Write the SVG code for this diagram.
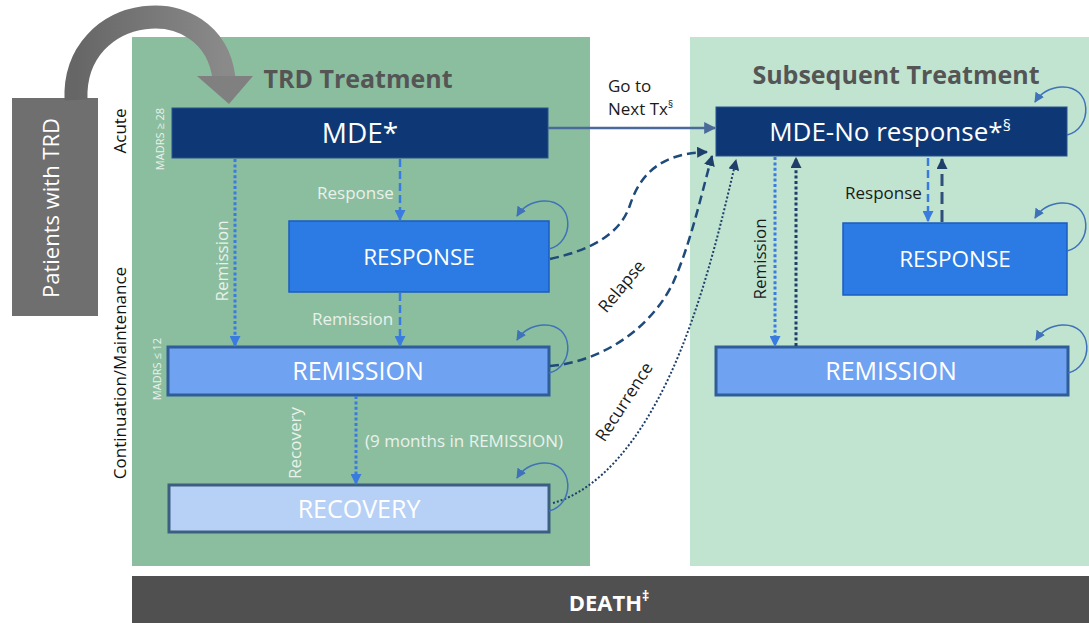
<svg xmlns="http://www.w3.org/2000/svg" width="1089" height="623" viewBox="0 0 1089 623">
<style>
text{font-family:"Open Sans","Liberation Sans",sans-serif}
.lbl{font-size:17px;fill:#e9f1ec}
.dlbl{font-size:17px;fill:#1a1a1a}
.box{font-size:25px;fill:#ffffff;text-anchor:middle}
.title{font-size:25px;font-weight:bold;fill:#555555;text-anchor:middle}
.madrs{font-size:11px;fill:#e9f1ec;text-anchor:middle}
.dot{fill:none;stroke:#3a7be0;stroke-width:3;stroke-dasharray:3 2.4}
.dash{fill:none;stroke:#3a7be0;stroke-width:2.5;stroke-dasharray:8 4}
.ndot{fill:none;stroke:#1f3f6b;stroke-width:3;stroke-dasharray:3 2.4}
.ndash{fill:none;stroke:#1f4a7a;stroke-width:2.5;stroke-dasharray:9 5}
.loop{fill:none;stroke:#3f72b8;stroke-width:1.5}
</style>
<defs>
<marker id="aBlue" viewBox="0 0 10 10" refX="9" refY="5" markerWidth="11" markerHeight="11" markerUnits="userSpaceOnUse" orient="auto"><path d="M0,0 L10,5 L0,10 z" fill="#3a7be0"/></marker>
<marker id="aNavy" viewBox="0 0 10 10" refX="9" refY="5" markerWidth="11" markerHeight="11" markerUnits="userSpaceOnUse" orient="auto"><path d="M0,0 L10,5 L0,10 z" fill="#1f3f6b"/></marker>
<marker id="aSteel" viewBox="0 0 10 10" refX="9" refY="5" markerWidth="12" markerHeight="12" markerUnits="userSpaceOnUse" orient="auto"><path d="M0,0 L10,5 L0,10 z" fill="#4a6a9a"/></marker>
<marker id="aLoop" viewBox="0 0 10 10" refX="9" refY="5" markerWidth="10" markerHeight="10" markerUnits="userSpaceOnUse" orient="auto"><path d="M0,0 L10,5 L0,10 z" fill="#3f72b8"/></marker>
<path id="loopShape" class="loop" d="M0,28 C26,22 26,-22 -6,-20 C-18,-19 -27,-13 -32,-5" marker-end="url(#aLoop)"/>
<linearGradient id="gArrow" x1="0" y1="0" x2="1" y2="0">
<stop offset="0" stop-color="#666666"/><stop offset="1" stop-color="#8a8a8a"/>
</linearGradient>
</defs>

<!-- panels -->
<rect x="132" y="37" width="458" height="529" fill="#8bbe9f"/>
<rect x="690" y="37" width="399" height="529" fill="#c0e4d0"/>
<rect x="132" y="576" width="957" height="47" fill="#505050"/>
<text x="609" y="611" font-size="22" font-weight="bold" fill="#ffffff" text-anchor="middle">DEATH<tspan font-size="14" dy="-10">‡</tspan></text>

<text class="title" x="358" y="88">TRD Treatment</text>
<text class="title" x="896" y="84">Subsequent Treatment</text>

<!-- patients and entry arrow -->
<g id="patients">
<rect x="12" y="98" width="86" height="218" fill="#6f6f6f"/>
<text transform="translate(59,208) rotate(-90)" font-size="22" fill="#ffffff" text-anchor="middle">Patients with TRD</text>
<path d="M76,100 C72,2 212,-14 224,78" fill="none" stroke="url(#gArrow)" stroke-width="23"/>
<polygon points="197,76 253,76 229,104" fill="#808080"/>
</g>

<!-- phase labels -->
<text transform="translate(126,131) rotate(-90)" font-size="17" fill="#111" text-anchor="middle">Acute</text>
<text transform="translate(126,373) rotate(-90)" font-size="17" fill="#111" text-anchor="middle">Continuation/Maintenance</text>
<text class="madrs" transform="translate(164,139) rotate(-90)">MADRS ≥ 28</text>
<text class="madrs" transform="translate(161,369) rotate(-90)">MADRS ≤ 12</text>

<!-- left nodes -->
<g id="mde">
<rect x="172" y="108" width="376" height="50" fill="#0d3875" stroke="#2a5090" stroke-width="1"/>
<text class="box" x="360" y="143" style="font-size:28px">MDE*</text>
</g>
<g id="response">
<rect x="289" y="221" width="260" height="71" fill="#2c7be5" stroke="#1a5cc0" stroke-width="1.5"/>
<text class="box" x="419" y="265" style="font-size:22.5px">RESPONSE</text>
</g>
<g id="remission">
<rect x="168" y="347" width="381" height="48" fill="#6fa2f0" stroke="#2f5d9a" stroke-width="3"/>
<text class="box" x="358" y="380">REMISSION</text>
</g>
<g id="recovery">
<rect x="169" y="485" width="380" height="47" fill="#b7d1f6" stroke="#3b5f7e" stroke-width="3"/>
<text class="box" x="359" y="518">RECOVERY</text>
</g>

<!-- right nodes -->
<g id="mde-nr">
<rect x="716" y="107" width="351" height="49" fill="#0d3875" stroke="#2a5090" stroke-width="1"/>
<text class="box" x="890" y="141" style="font-size:26px">MDE-No response*<tspan font-size="16" dy="-10">§</tspan></text>
</g>
<g id="response2">
<rect x="843" y="223" width="224" height="72" fill="#2c7be5" stroke="#1a5cc0" stroke-width="1.5"/>
<text class="box" x="955" y="267" style="font-size:22.5px">RESPONSE</text>
</g>
<g id="remission2">
<rect x="716" y="347" width="352" height="48" fill="#6fa2f0" stroke="#2f5d9a" stroke-width="3"/>
<text class="box" x="891" y="380">REMISSION</text>
</g>

<!-- connectors -->
<g id="connectors">
<path d="M548,128 L715,128" fill="none" stroke="#4a6a9a" stroke-width="2.5" marker-end="url(#aSteel)"/>
<path class="dot" d="M235,159 L235,346" marker-end="url(#aBlue)"/>
<path class="dash" d="M400,159 L400,220" marker-end="url(#aBlue)"/>
<path class="dash" d="M400,293 L400,346" marker-end="url(#aBlue)"/>
<path class="dot" d="M356,396 L356,484" marker-end="url(#aBlue)"/>
<path class="ndash" d="M550,259 C590,250 620,235 630,205 C640,175 660,153 707,152" marker-end="url(#aNavy)"/>
<path class="ndash" d="M550,366 C600,362 650,330 673,283 C690,245 700,200 712,156" marker-end="url(#aNavy)"/>
<path d="M553,503 C600,490 640,440 670,375 C700,310 720,230 736,160" fill="none" stroke="#1f3f6b" stroke-width="2" stroke-dasharray="2 2" marker-end="url(#aNavy)"/>
<path class="dot" d="M775,157 L775,346" marker-end="url(#aBlue)"/>
<path class="ndot" d="M796,346 L796,158" marker-end="url(#aNavy)"/>
<path class="dash" d="M928,158 L928,221" marker-end="url(#aBlue)"/>
<path d="M942,222 L942,159" fill="none" stroke="#2f4f7a" stroke-width="3" stroke-dasharray="12 6" marker-end="url(#aNavy)"/>
<!-- self loops -->
<use href="#loopShape" transform="translate(549,221)"/>
<use href="#loopShape" transform="translate(549,345)"/>
<use href="#loopShape" transform="translate(549,483)"/>
<use href="#loopShape" transform="translate(1067,107)"/>
<use href="#loopShape" transform="translate(1067,223)"/>
<use href="#loopShape" transform="translate(1068,345)"/>
</g>

<!-- connector labels -->
<text class="dlbl" x="608" y="92">Go to</text>
<text class="dlbl" x="608" y="115">Next Tx<tspan font-size="10" dy="-7">§</tspan></text>
<text class="lbl" x="317" y="199">Response</text>
<text class="lbl" x="312" y="325">Remission</text>
<text class="lbl" transform="translate(228,261) rotate(-90)" text-anchor="middle">Remission</text>
<text class="lbl" transform="translate(301,443) rotate(-90)" text-anchor="middle">Recovery</text>
<text class="lbl" x="365" y="447">(9 months in REMISSION)</text>
<text class="dlbl" transform="translate(626,290) rotate(-50)" text-anchor="middle">Relapse</text>
<text class="dlbl" transform="translate(629,405) rotate(-57)" text-anchor="middle">Recurrence</text>
<text class="dlbl" transform="translate(766,259) rotate(-90)" text-anchor="middle">Remission</text>
<text class="dlbl" x="845" y="199">Response</text>
</svg>
